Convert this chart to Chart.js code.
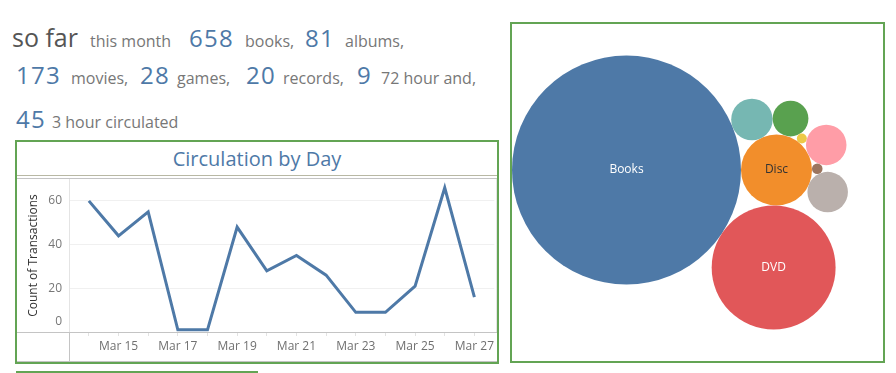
<!DOCTYPE html>
<html>
<head>
<meta charset="utf-8">
<script src="https://cdn.jsdelivr.net/npm/chart.js@4.4.1/dist/chart.umd.min.js"></script>
<style>
  body { margin: 0; width: 896px; height: 373px; overflow: hidden; background: #fff; position: relative; font-family: "Open Sans", sans-serif; }
  .t { position: absolute; white-space: nowrap; line-height: 1; }
  .big { font-size: 25px; color: #555; }
  .num { font-size: 24px; color: #4e79a7; letter-spacing: 1.3px; }
  .sm { font-size: 16px; color: #777; }
  #lineBox { position: absolute; left: 15px; top: 140px; width: 484px; height: 224px; border: 2px solid #63a454; box-sizing: border-box; }
  #lineTitle { height: 34px; border-bottom: 1px solid #b8b8a4; box-sizing: border-box; text-align: center; color: #4e79a7; font-size: 20px; line-height: 20px; padding-top: 7px; }
  #lineWrap { position: absolute; left: 0; top: 34px; width: 480px; height: 186px; }
  #bubbleBox { position: absolute; left: 510px; top: 22px; width: 375px; height: 341px; border: 2px solid #63a454; box-sizing: border-box; }
  #bubbleWrap { position: absolute; left: 0; top: 0; width: 371px; height: 337px; }
  #stub { position: absolute; left: 16px; top: 371px; width: 242px; height: 2px; background: #63a454; }
</style>
</head>
<body>
<span class="t big" style="left:12px;top:25px">so far</span>
<span class="t sm" style="left:90px;top:33px">this month</span>
<span class="t num" style="left:189px;top:26px">658</span>
<span class="t sm" style="left:245px;top:33px">books,</span>
<span class="t num" style="left:305px;top:26px">81</span>
<span class="t sm" style="left:345px;top:33px">albums,</span>

<span class="t num" style="left:16px;top:63px">173</span>
<span class="t sm" style="left:71px;top:70px">movies,</span>
<span class="t num" style="left:140px;top:63px">28</span>
<span class="t sm" style="left:177px;top:70px">games,</span>
<span class="t num" style="left:246px;top:63px">20</span>
<span class="t sm" style="left:283px;top:70px">records,</span>
<span class="t num" style="left:357px;top:63px">9</span>
<span class="t sm" style="left:381px;top:70px">72 hour and,</span>

<span class="t num" style="left:16px;top:107px">45</span>
<span class="t sm" style="left:52px;top:114px">3 hour circulated</span>

<div id="lineBox">
  <div id="lineTitle">Circulation by Day</div>
  <div id="lineWrap"><canvas id="lineChart"></canvas></div>
</div>
<div id="bubbleBox">
  <div id="bubbleWrap"><canvas id="bubbleChart"></canvas></div>
</div>
<div id="stub"></div>

<script>
// circulation by day
const days = ['Mar 14', 'Mar 15', 'Mar 16', 'Mar 17', 'Mar 18', 'Mar 19', 'Mar 20',
              'Mar 21', 'Mar 22', 'Mar 23', 'Mar 24', 'Mar 25', 'Mar 26', 'Mar 27'];
const transactions = [60, 44, 55, 1, 1, 48, 28, 35, 26, 9, 9, 21, 66, 16];
const yTicks = [0, 20, 40, 60];

// circulation by media type (bubble area)
const mediaTypes = ['Books', 'Disc', 'DVD', 'Equipment', 'Games', 'Kits', 'Magazines', 'Other', 'Records'];
const mediaCounts = [1311, 126, 384, 43, 32, 2.5, 41, 2.8, 41];

const palette = ['#4e79a7', '#f28e2b', '#e15759', '#76b7b2', '#59a14f', '#edc948', '#ff9da7', '#9c755f', '#bab0ac'];

Chart.defaults.font.family = '"Open Sans", sans-serif';
Chart.defaults.animation = false;

// frame lines + y labels the way tableau draws them
const paneLines = {
    id: 'paneLines',
    afterDraw(chart) {
        const { ctx, chartArea: a, width, height } = chart;
        const ys = chart.scales.y;
        ctx.save();
        ctx.font = '12px "Open Sans"';
        ctx.fillStyle = '#777';
        ctx.textAlign = 'right';
        ctx.textBaseline = 'middle';
        yTicks.forEach(v => {
            let py = ys.getPixelForValue(v);
            if (py > a.bottom - 10) py = a.bottom - 10;
            ctx.fillText(String(v), a.left - 7, py);
        });

        const line = (x1, y1, x2, y2) => {
            ctx.beginPath();
            ctx.moveTo(x1, y1);
            ctx.lineTo(x2, y2);
            ctx.stroke();
        };
        ctx.lineWidth = 1;
        ctx.strokeStyle = '#e4e4e4';
        line(a.left + 0.5, a.top, a.left + 0.5, a.bottom);
        line(width - 0.5, a.top, width - 0.5, a.bottom);
        ctx.strokeStyle = '#c4c4c4';
        line(0, 2.5, width, 2.5);
        line(0, a.bottom + 0.5, width, a.bottom + 0.5);
        line(a.left + 0.5, a.bottom, a.left + 0.5, height);
        line(0, height - 0.5, width, height - 0.5);
        ctx.restore();
    }
};

new Chart(document.getElementById('lineChart'), {
    type: 'line',
    data: {
        datasets: [{
            data: transactions.map((v, i) => ({ x: i, y: v })),
            borderColor: '#4e79a7',
            borderWidth: 3,
            pointRadius: 0,
            tension: 0
        }]
    },
    options: {
        responsive: true,
        maintainAspectRatio: false,
        events: [],
        layout: { padding: { top: 3, left: 0, right: 0, bottom: 0 } },
        plugins: { legend: { display: false }, tooltip: { enabled: false } },
        scales: {
            x: {
                type: 'linear',
                min: -0.67,
                max: days.length - 1 + 0.67,
                afterBuildTicks: axis => { axis.ticks = days.map((d, i) => ({ value: i })); },
                afterFit: scale => { scale.height = 30; },
                grid: { drawOnChartArea: false, drawTicks: true, tickLength: 4, color: '#e2e2e2' },
                border: { display: false },
                ticks: {
                    autoSkip: false,
                    maxRotation: 0,
                    padding: 3,
                    color: '#707070',
                    font: { size: 12 },
                    callback: value => (value % 2 === 1 ? days[value] : '')
                }
            },
            y: {
                min: 0,
                max: 70,
                afterBuildTicks: axis => { axis.ticks = yTicks.map(v => ({ value: v })); },
                afterFit: scale => { scale.width = 52; },
                grid: { color: '#f0f0f0', drawTicks: false },
                border: { display: false },
                ticks: { display: false },
                title: {
                    display: true,
                    text: 'Count of Transactions',
                    color: '#333',
                    font: { size: 12 },
                    padding: { top: 9, bottom: 0 }
                }
            }
        }
    },
    plugins: [paneLines]
});

// packed bubbles: first circle, second to its right, third below both,
// then the rest wrap clockwise around the second one
const sizeScale = Math.sqrt(10);
const radii = mediaCounts.map(v => sizeScale * Math.sqrt(v));

function tangent(A, ra, B, rb, rc) {
    const dx = B.x - A.x, dy = B.y - A.y;
    const d = Math.hypot(dx, dy);
    const a = ra + rc, b = rb + rc;
    const t = (a * a - b * b + d * d) / (2 * d);
    const h = Math.sqrt(Math.max(0, a * a - t * t));
    const ux = dx / d, uy = dy / d;
    return { x: A.x + t * ux - h * uy, y: A.y + t * uy + h * ux };
}

function overlaps(p, r, placed, skip) {
    return placed.findIndex((q, k) => !skip.includes(k) &&
        Math.hypot(p.x - q.x, p.y - q.y) < r + radii[k] - 0.5);
}

const pos = [{ x: 0, y: 0 }];
pos[1] = { x: radii[0] + radii[1], y: 0 };
pos[2] = tangent(pos[0], radii[0], pos[1], radii[1], radii[2]);
pos[2] = { x: pos[2].x, y: Math.abs(pos[2].y) };
let prev = 0;
for (let i = 3; i < radii.length; i++) {
    let p = tangent(pos[1], radii[1], pos[prev], radii[prev], radii[i]);
    let hit = overlaps(p, radii[i], pos, [1, prev]);
    let guard = 0;
    while (hit >= 0 && guard++ < 10) {
        prev = hit;
        p = tangent(pos[1], radii[1], pos[prev], radii[prev], radii[i]);
        hit = overlaps(p, radii[i], pos, [1, prev]);
    }
    pos[i] = p;
    prev = i;
}

const packLeft = Math.min(...pos.map((p, i) => p.x - radii[i]));
const packTop = Math.min(...pos.map((p, i) => p.y - radii[i]));
const packBottom = Math.max(...pos.map((p, i) => p.y + radii[i]));
const boxW = 371, boxH = 337;
const midY = (packTop + packBottom) / 2;
const xRange = [packLeft, packLeft + boxW];
const yRange = [midY - boxH / 2, midY + boxH / 2];

// pin a hidden axis to an exact range (1 unit = 1 px)
const pinRange = range => axis => {
    axis.min = range[0];
    axis.max = range[1];
    axis.ticks = [{ value: range[0] }, { value: range[1] }];
};

const bubbleLabels = {
    id: 'bubbleLabels',
    afterDatasetsDraw(chart) {
        const { ctx } = chart;
        const meta = chart.getDatasetMeta(0);
        ctx.save();
        ctx.font = '12px "Open Sans"';
        ctx.textAlign = 'center';
        ctx.textBaseline = 'middle';
        meta.data.forEach((el, i) => {
            if (radii[i] < 30) return;
            const c = palette[i];
            const r = parseInt(c.slice(1, 3), 16), g = parseInt(c.slice(3, 5), 16), b = parseInt(c.slice(5, 7), 16);
            const lum = (0.299 * r + 0.587 * g + 0.114 * b) / 255;
            ctx.fillStyle = lum > 0.6 ? '#333' : '#fff';
            ctx.fillText(mediaTypes[i], el.x, el.y);
        });
        ctx.restore();
    }
};

new Chart(document.getElementById('bubbleChart'), {
    type: 'bubble',
    data: {
        labels: mediaTypes,
        datasets: [{
            data: pos.map((p, i) => ({ x: p.x, y: p.y, r: radii[i] })),
            backgroundColor: palette,
            borderWidth: 0,
            hoverRadius: 0,
            clip: false
        }]
    },
    options: {
        responsive: true,
        maintainAspectRatio: false,
        events: [],
        layout: { autoPadding: false, padding: 0 },
        plugins: { legend: { display: false }, tooltip: { enabled: false } },
        scales: {
            x: { type: 'linear', display: false, bounds: 'data', min: xRange[0], max: xRange[1], afterBuildTicks: pinRange(xRange) },
            y: { type: 'linear', display: false, bounds: 'data', reverse: true, min: yRange[0], max: yRange[1], afterBuildTicks: pinRange(yRange) }
        }
    },
    plugins: [bubbleLabels]
});
</script>
</body>
</html>
